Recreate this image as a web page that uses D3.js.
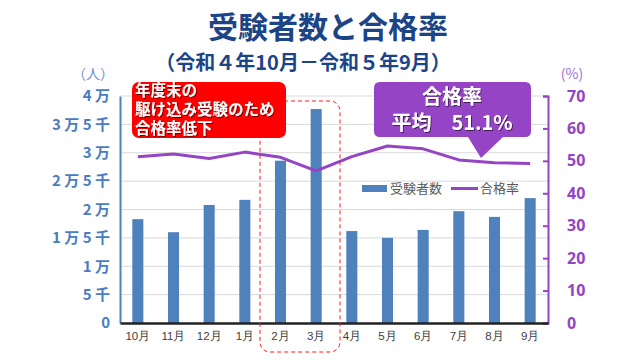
<!DOCTYPE html>
<html><head><meta charset="utf-8">
<script src="https://cdn.jsdelivr.net/npm/d3@7/dist/d3.min.js"></script>
<style>
html,body{margin:0;padding:0;background:#fff;}
svg{display:block;font-family:"Noto Sans CJK JP","Noto Sans",sans-serif;}
</style></head>
<body>
<svg id="c" width="640" height="360"></svg>
<script>
const months = ["10月","11月","12月","1月","2月","3月","4月","5月","6月","7月","8月","9月"];
const examinees = [18300,16000,20800,21700,28600,37700,16200,15000,16400,19700,18700,22000];
const passRate = [51.3,52.1,50.7,52.7,51.1,46.9,51.3,54.6,53.7,50.3,49.4,49.2];
const leftTicks = [0,5000,10000,15000,20000,25000,30000,35000,40000];
const leftTickLabels = ["0","5 千","1 万","1 万 5 千","2 万","2 万 5 千","3 万","3 万 5 千","4 万"];
const rightTicks = [0,10,20,30,40,50,60,70];
const titleText = "受験者数と合格率";
const subtitleText = "（令和４年10月－令和５年9月）";
const noteLines = ["年度末の","駆け込み受験のため","合格率低下"];
const avgLines = ["合格率","平均　51.1%"];
const legendLabels = ["受験者数","合格率"];

const svg = d3.select("#c");
const L = 120, R = 548, T = 96, B = 323;
const blue = "#4f81bd", purple = "#9444c4", navy = "#1c4587";

const defs = svg.append("defs");
const f = defs.append("filter").attr("id","sh").attr("x","-10%").attr("y","-10%").attr("width","130%").attr("height","130%");
f.append("feDropShadow").attr("dx",1).attr("dy",1).attr("stdDeviation",0.6).attr("flood-color","#000").attr("flood-opacity",0.55);

const x = d3.scaleBand().domain(months).range([L,R]).paddingInner(0.69).paddingOuter(0.345);
const y = d3.scaleLinear().domain([0,40000]).range([B,T]);
const y2 = d3.scaleLinear().domain([0,70]).range([B,T]);

// title
svg.append("text").attr("x",328).attr("y",38).attr("text-anchor","middle")
  .attr("font-size",30).attr("font-weight","bold").attr("fill",navy).text(titleText);
svg.append("text").attr("x",303).attr("y",70).attr("text-anchor","middle")
  .attr("font-size",20).attr("font-weight","bold").attr("fill",navy).text(subtitleText);

// units
svg.append("text").attr("x",93).attr("y",79).attr("text-anchor","middle").attr("font-size",14).attr("fill","#6f8fcf").text("（人）");
svg.append("text").attr("x",572).attr("y",79).attr("text-anchor","middle").attr("font-size",14).attr("fill","#a070d0").text("(%)");

// gridlines
svg.append("g").selectAll("line").data(leftTicks.slice(1)).join("line")
  .attr("x1",L).attr("x2",R).attr("y1",d=>y(d)).attr("y2",d=>y(d))
  .attr("stroke","#d9d9d9").attr("stroke-width",1);

// left axis
const gl = svg.append("g").attr("transform",`translate(${L},0)`)
  .call(d3.axisLeft(y).tickValues(leftTicks).tickSize(0).tickPadding(10).tickFormat((d,i)=>leftTickLabels[i]));
gl.select(".domain").attr("stroke",blue).attr("stroke-width",2);
gl.selectAll("text").attr("font-size",15).attr("font-weight","bold").attr("fill","#4a7cc4")
  .attr("font-family","'Noto Sans CJK JP',sans-serif").attr("xml:space","preserve");

// right axis
const gr = svg.append("g").attr("transform",`translate(${R},0)`)
  .call(d3.axisRight(y2).tickValues(rightTicks).tickSizeInner(-5).tickSizeOuter(-5).tickPadding(19));
gr.select(".domain").attr("stroke",purple).attr("stroke-width",2);
gr.selectAll(".tick line").attr("stroke",purple).attr("stroke-width",2);
gr.selectAll("text").attr("font-size",16).attr("font-weight","bold").attr("fill",purple)
  .attr("font-family","'Noto Sans','DejaVu Sans',sans-serif");

// bars
svg.append("g").selectAll("rect").data(examinees).join("rect")
  .attr("x",(d,i)=>x(months[i])).attr("width",x.bandwidth())
  .attr("y",d=>y(d)).attr("height",d=>B-y(d)).attr("fill",blue);

// x axis
const gx = svg.append("g").attr("transform",`translate(0,${B})`)
  .call(d3.axisBottom(x).tickSize(0).tickPadding(9));
gx.select(".domain").attr("stroke","#222").attr("stroke-width",2.5);
gx.selectAll("text").attr("font-size",11.5).attr("fill","#404040");

// line
const line = d3.line().x((d,i)=>x(months[i])+x.bandwidth()/2).y(d=>y2(d));
svg.append("path").datum(passRate).attr("d",line).attr("fill","none")
  .attr("stroke",purple).attr("stroke-width",3).attr("stroke-linejoin","round");

// dashed highlight
svg.append("rect").attr("x",260).attr("y",101).attr("width",80).attr("height",251).attr("rx",10)
  .attr("fill","none").attr("stroke","#ff1a1a").attr("stroke-width",1).attr("stroke-dasharray","4,3");

// red note
svg.append("rect").attr("x",132).attr("y",82).attr("width",154).attr("height",56).attr("rx",7).attr("fill","#ff0000");
svg.append("g").attr("filter","url(#sh)").selectAll("text").data(noteLines).join("text")
  .attr("x",135).attr("y",(d,i)=>96+i*19).attr("font-size",15.5).attr("font-weight","bold").attr("fill","#fff").text(d=>d);

// purple note
const pn = svg.append("g");
pn.append("path").attr("d","M380,82 H525 Q531,82 531,88 V131 Q531,137 525,137 H503 L481,158 L468,137 H380 Q374,137 374,131 V88 Q374,82 380,82 Z")
  .attr("fill",purple);
const pt = pn.append("g").attr("filter","url(#sh)");
pt.append("text").attr("x",452).attr("y",104).attr("text-anchor","middle").attr("font-size",20).attr("font-weight","bold").attr("fill","#fff").text(avgLines[0]);
pt.append("text").attr("x",452).attr("y",130).attr("text-anchor","middle").attr("font-size",20).attr("font-weight","bold").attr("fill","#fff").attr("xml:space","preserve").text(avgLines[1]);

// legend
const lg = svg.append("g");
lg.append("rect").attr("x",362).attr("y",185).attr("width",25).attr("height",7).attr("fill",blue);
lg.append("text").attr("x",390).attr("y",193).attr("font-size",13).attr("fill","#595959").text(legendLabels[0]);
lg.append("line").attr("x1",451).attr("x2",478).attr("y1",188.5).attr("y2",188.5).attr("stroke",purple).attr("stroke-width",3);
lg.append("text").attr("x",480).attr("y",193).attr("font-size",13).attr("fill","#595959").text(legendLabels[1]);
</script>
</body></html>
